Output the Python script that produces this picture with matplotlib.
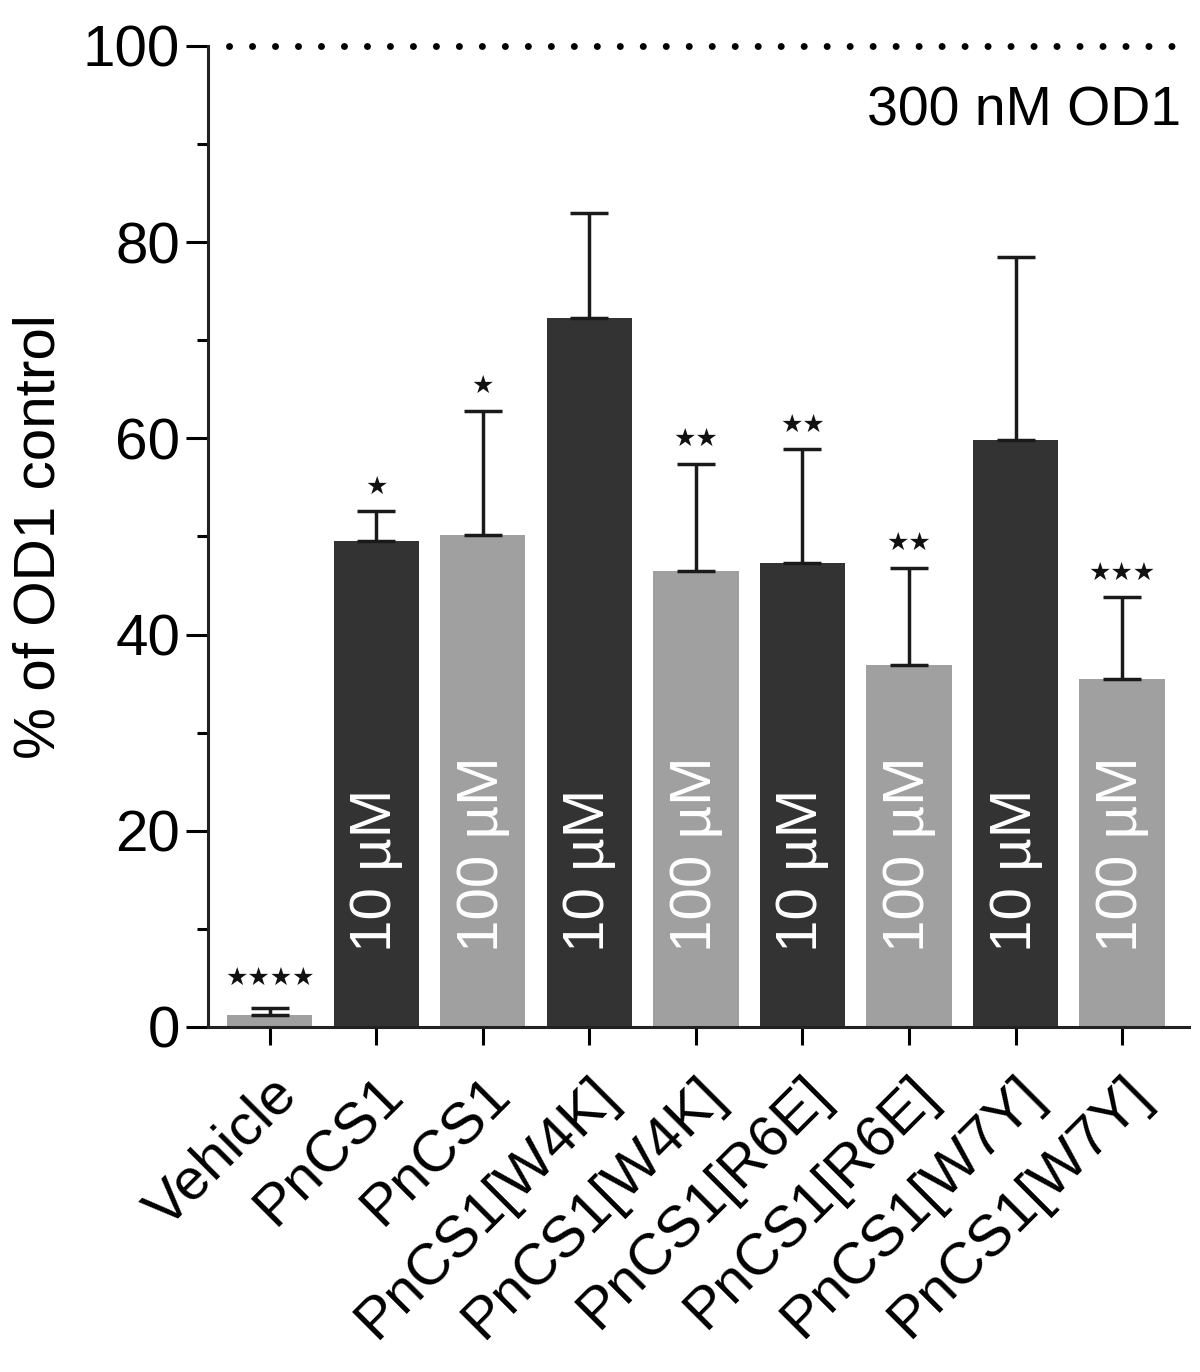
import numpy as np
import matplotlib
matplotlib.use('Agg')
import matplotlib.pyplot as plt

plt.rcParams['font.family'] = ['Liberation Sans', 'DejaVu Sans']

# data
groups = ['Vehicle', 'PnCS1', 'PnCS1', 'PnCS1[W4K]', 'PnCS1[W4K]',
          'PnCS1[R6E]', 'PnCS1[R6E]', 'PnCS1[W7Y]', 'PnCS1[W7Y]']
conc = ['', '10 µM', '100 µM', '10 µM', '100 µM', '10 µM', '100 µM', '10 µM', '100 µM']
means = [1.2, 49.5, 50.1, 72.3, 46.5, 47.3, 36.9, 59.8, 35.5]
upper = [1.9, 52.6, 62.8, 83.0, 57.4, 58.9, 46.8, 78.5, 43.8]
stars = ['****', '*', '*', '', '**', '**', '**', '', '***']

dark = '#333333'
light = '#a0a0a0'
colors = [light] + [dark, light] * 4

err = np.array(upper) - np.array(means)
x = np.arange(len(groups))

fig = plt.figure(figsize=(12, 13.72), dpi=100)
ax = fig.add_axes([0.1733, 0.2515, 0.8177, 0.715])

ax.bar(x, means, width=0.8, color=colors, edgecolor='none', zorder=2)
ax.errorbar(x, means, yerr=[np.zeros(len(x)), err], fmt='none', ecolor='#1a1a1a',
            elinewidth=2.5, capsize=14, capthick=2.5, zorder=3)

for xi, m, u, c, s in zip(x, means, upper, conc, stars):
    if c:
        ax.text(xi, 7.6, c, rotation=90, rotation_mode='anchor', ha='left', va='center',
                color='white', fontsize=42)
    if s:
        ax.text(xi, u + 2.5 + (0.6 if xi == 0 else 0), '\u2605' * len(s), ha='center',
                va='center', fontsize=18, family=['DejaVu Sans'], color='#111111')

ax.plot([-0.38, 8.56], [100, 100], color='black', linestyle=(0, (0.01, 3.3)), linewidth=5,
        dash_capstyle='round', zorder=1, clip_on=False)
ax.text(8.55, 93.3, '300 nM OD1', ha='right', va='center', fontsize=40)

ax.set_xlim(-0.58, 8.63)
ax.set_ylim(0, 100)
ax.set_yticks([0, 20, 40, 60, 80, 100])
ax.set_yticks([10, 30, 50, 70, 90], minor=True)
ax.set_xticks(x)
ax.set_xticklabels(groups, rotation=45, ha='right', rotation_mode='anchor', fontsize=42)
ax.tick_params(axis='y', which='major', length=16, width=2.2, labelsize=42, pad=4)
ax.tick_params(axis='y', which='minor', length=8, width=2.2)
ax.tick_params(axis='x', length=13, width=2.2, pad=16)
ax.set_ylabel('% of OD1 control', fontsize=42, labelpad=12)

for side in ['top', 'right']:
    ax.spines[side].set_visible(False)
for side in ['left', 'bottom']:
    ax.spines[side].set_linewidth(2.2)
    ax.spines[side].set_color('#222222')

fig.savefig('out.png', dpi=100)
